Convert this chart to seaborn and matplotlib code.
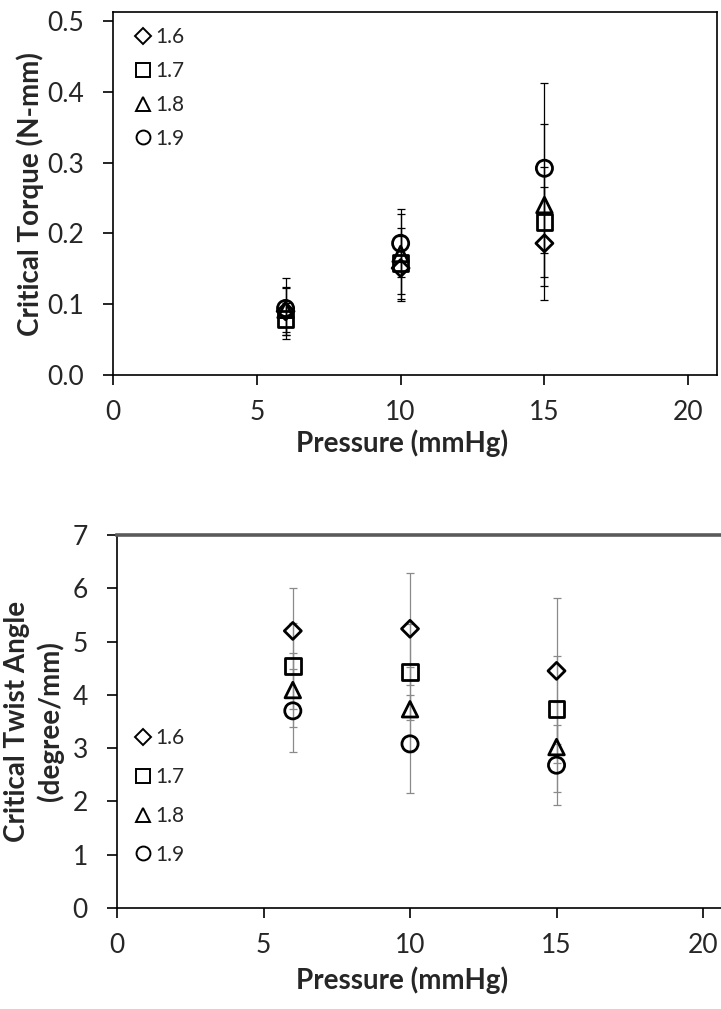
import numpy as np
import pandas as pd
import matplotlib
matplotlib.use("Agg")
import matplotlib.pyplot as plt
import seaborn as sns
from matplotlib.lines import Line2D

# ---- data ----
pressure = [6, 10, 15]
series = ["1.6", "1.7", "1.8", "1.9"]

torque_16 = [0.090, 0.151, 0.186]
torque_17 = [0.079, 0.158, 0.216]
torque_18 = [0.092, 0.171, 0.240]
torque_19 = [0.094, 0.186, 0.292]
torque_err_16 = [0.034, 0.046, 0.080]
torque_err_17 = [0.023, 0.050, 0.078]
torque_err_18 = [0.031, 0.056, 0.115]
torque_err_19 = [0.043, 0.048, 0.120]

twist_16 = [5.20, 5.24, 4.45]
twist_17 = [4.54, 4.43, 3.73]
twist_18 = [4.09, 3.73, 3.02]
twist_19 = [3.70, 3.08, 2.68]
twist_err_16 = [0.80, 1.05, 1.37]
twist_err_17 = [0.80, 0.90, 1.00]
twist_err_18 = [0.70, 0.80, 0.84]
twist_err_19 = [0.78, 0.92, 0.75]

torque_vals = [torque_16, torque_17, torque_18, torque_19]
torque_errs = [torque_err_16, torque_err_17, torque_err_18, torque_err_19]
twist_vals = [twist_16, twist_17, twist_18, twist_19]
twist_errs = [twist_err_16, twist_err_17, twist_err_18, twist_err_19]

markers = {"1.6": "D", "1.7": "s", "1.8": "^", "1.9": "o"}
msizes = {"1.6": 75, "1.7": 125, "1.8": 125, "1.9": 135}


def long_frame(vals, errs):
    rows = []
    for s, v, e in zip(series, vals, errs):
        for p, vv, ee in zip(pressure, v, e):
            rows.append({"Pressure": p, "Value": vv, "Err": ee, "Series": s})
    return pd.DataFrame(rows)


df_torque = long_frame(torque_vals, torque_errs)
df_twist = long_frame(twist_vals, twist_errs)

sns.set_style("white")
plt.rcParams["font.family"] = ["Lato", "DejaVu Sans"]

W, H = 721, 1009
fig = plt.figure(figsize=(W / 100, H / 100), dpi=100)
# top axes: left 113px, top 12px, right 717px, bottom 375px
ax1 = fig.add_axes([113 / W, 1 - 375 / H, (717 - 113) / W, (375 - 12) / H])
# bottom axes: left 117px, top 535px, bottom 908px, right beyond the image
ax2 = fig.add_axes([117 / W, 1 - 908 / H, (730 - 117) / W, (908 - 535) / H])


def draw(ax, df, ecolor, xlim, ylim, yticks, yfmt, ylabel, legend_y, lspacing,
         xlab_xy, ylab_xy):
    for s in series:
        d = df[df["Series"] == s]
        ax.errorbar(d["Pressure"], d["Value"], yerr=d["Err"], fmt="none",
                    ecolor=ecolor, elinewidth=0.9, capsize=3, capthick=0.9, zorder=1)
    for s in series:
        d = df[df["Series"] == s]
        sns.scatterplot(data=d, x="Pressure", y="Value", marker=markers[s],
                        s=msizes[s], facecolors="none", edgecolor="black",
                        linewidth=2.0, ax=ax, zorder=3, legend=False)
    ax.set_xlim(*xlim)
    ax.set_xticks([0, 5, 10, 15, 20])
    ax.set_ylim(*ylim)
    ax.set_yticks(yticks)
    ax.set_yticklabels([yfmt.format(t) for t in yticks])
    ax.tick_params(axis="both", labelsize=19, direction="out", length=7,
                   width=1.2, color="black", left=True, bottom=True)
    ax.tick_params(axis="y", pad=14)
    ax.tick_params(axis="x", pad=11)
    for sp in ax.spines.values():
        sp.set_color("black")
        sp.set_linewidth(1.2)
        sp.set_visible(True)
    ax.set_xlabel("Pressure (mmHg)", fontsize=20, fontweight="bold")
    ax.set_ylabel(ylabel, fontsize=20, fontweight="bold", linespacing=1.3)
    ax.xaxis.set_label_coords(*xlab_xy)
    ax.xaxis.label.set_va("center")
    ax.yaxis.set_label_coords(*ylab_xy)
    ax.yaxis.label.set_va("center")
    handles = [Line2D([], [], linestyle="none", marker=markers[s],
                      markersize=(8 if s == "1.6" else 10),
                      markerfacecolor="none", markeredgecolor="black", markeredgewidth=1.4)
               for s in series]
    ax.legend(handles, series, loc="upper left",
              bbox_to_anchor=(122 / W, 1 - legend_y / H), bbox_transform=fig.transFigure,
              frameon=False, fontsize=15, handletextpad=0.0, handlelength=1.2,
              labelspacing=lspacing, borderaxespad=0)


draw(ax1, df_torque, "black", (0, 21), (0, 0.5127), [0.0, 0.1, 0.2, 0.3, 0.4, 0.5], "{:.1f}",
     "Critical Torque (N-mm)", 19, 0.66, (0.478, -0.187), (-0.137, 0.499))
draw(ax2, df_twist, "#8a8a8a", (0, 20.92), (0, 7), [0, 1, 2, 3, 4, 5, 6, 7], "{:d}",
     "Critical Twist Angle\n(degree/mm)", 720, 0.9, (0.465, -0.193), (-0.135, 0.5))

# bottom chart: heavy grey border at the top
ax2.spines["top"].set_color("#5a5a5a")
ax2.spines["top"].set_linewidth(2.6)

fig.savefig("out.png", dpi=100)
